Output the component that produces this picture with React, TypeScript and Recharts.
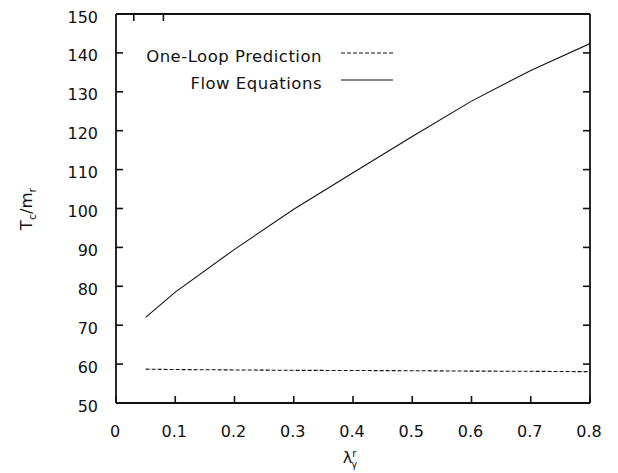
import { LineChart, Line, XAxis, YAxis, Legend } from 'recharts';

// coupling values and critical temperature (in units of m_r)
const lambdaR = [0.05, 0.1, 0.2, 0.3, 0.4, 0.5, 0.6, 0.7, 0.8];
const flowEquations = [72.0, 78.5, 89.5, 99.8, 109.2, 118.5, 127.6, 135.5, 142.4];
const oneLoop = [58.7, 58.6, 58.5, 58.4, 58.35, 58.3, 58.2, 58.15, 58.05];

const xTicks = [0, 0.1, 0.2, 0.3, 0.4, 0.5, 0.6, 0.7, 0.8];
const yTicks = [50, 60, 70, 80, 90, 100, 110, 120, 130, 140, 150];

const FONT = '"DejaVu Sans", sans-serif';
const INK = '#111';
// negative size turns the tick marks inward
const TICK = -7;
const tickStyle = { stroke: INK, strokeWidth: 1.6 };
const frameStyle = { stroke: INK, strokeWidth: 1.8 };

const chartData = lambdaR.map((l, i) => ({
  lambda: l,
  flow: flowEquations[i],
  oneLoop: oneLoop[i],
}));

const series = [
  { key: 'oneLoop', name: 'One-Loop Prediction', dash: '4 2' },
  { key: 'flow', name: 'Flow Equations', dash: undefined },
];

const BottomLabel = ({ x, y, payload }: any) => (
  <text x={x - 1} y={y + 34} textAnchor="middle" fontFamily={FONT} fontSize={16} fill={INK}>
    {String(payload.value)}
  </text>
);

const LeftLabel = ({ x, y, payload }: any) => (
  <text x={x - 18} y={y + 8.5} textAnchor="end" fontFamily={FONT} fontSize={16} fill={INK}>
    {String(payload.value)}
  </text>
);

const NoLabel = () => <g />;

const YTitle = () => (
  <text
    x={32}
    y={209}
    transform="rotate(-90, 32, 209)"
    textAnchor="middle"
    fontFamily={FONT}
    fontSize={16.5}
    fill={INK}
  >
    <tspan>T</tspan>
    <tspan dy={4} fontSize={11}>c</tspan>
    <tspan dy={-4}>/m</tspan>
    <tspan dy={4} fontSize={11}>r</tspan>
  </text>
);

const XTitle = () => (
  <text x={350} y={463} textAnchor="middle" fontFamily={FONT} fontSize={16} fill={INK}>
    <tspan>λ</tspan>
    <tspan dy={-6} fontSize={10}>r</tspan>
    <tspan dx={-5} dy={11} fontSize={10}>γ</tspan>
  </text>
);

const renderLegend = () => (
  <svg width={280} height={60}>
    {series.map((s, i) => (
      <g key={s.key}>
        <text
          x={182}
          y={22 + i * 27}
          textAnchor="end"
          fontFamily={FONT}
          fontSize={16.5}
          letterSpacing={0.5}
          fill={INK}
        >
          {s.name}
        </text>
        <line
          x1={201}
          x2={253}
          y1={13 + i * 27}
          y2={13 + i * 27}
          stroke={INK}
          strokeWidth={1.1}
          strokeDasharray={s.dash}
        />
      </g>
    ))}
  </svg>
);

export default function App() {
  return (
    <div style={{ position: 'absolute', left: 0, top: 0, width: 618, height: 473, background: '#fff' }}>
      <LineChart width={618} height={473} data={chartData} margin={{ top: 0, right: 0, bottom: 0, left: 0 }}>
        <XAxis
          dataKey="lambda"
          type="number"
          domain={[0, 0.8]}
          ticks={xTicks}
          height={70}
          tickSize={TICK}
          tickMargin={7}
          tickLine={tickStyle}
          tick={<BottomLabel />}
          axisLine={frameStyle}
          label={<XTitle />}
          allowDataOverflow
        />
        <XAxis
          xAxisId="top"
          orientation="top"
          type="number"
          domain={[0, 0.8]}
          ticks={xTicks}
          height={14}
          tickSize={TICK}
          tickLine={tickStyle}
          tick={<NoLabel />}
          axisLine={frameStyle}
          allowDataOverflow
        />
        <YAxis
          type="number"
          domain={[50, 150]}
          ticks={yTicks}
          width={116}
          tickSize={TICK}
          tickMargin={7}
          tickLine={tickStyle}
          tick={<LeftLabel />}
          axisLine={frameStyle}
          label={<YTitle />}
          allowDataOverflow
        />
        <YAxis
          yAxisId="right"
          orientation="right"
          type="number"
          domain={[50, 150]}
          ticks={yTicks}
          width={28}
          tickSize={TICK}
          tickLine={tickStyle}
          tick={<NoLabel />}
          axisLine={frameStyle}
          allowDataOverflow
        />
        <Legend
          layout="vertical"
          align="center"
          verticalAlign="middle"
          content={renderLegend}
          wrapperStyle={{ top: 40, left: 140, width: 280, height: 60 }}
        />
        {series.map((s) => (
          <Line
            key={s.key}
            dataKey={s.key}
            name={s.name}
            type="linear"
            stroke={INK}
            strokeWidth={1.1}
            strokeDasharray={s.dash}
            dot={false}
            activeDot={false}
            isAnimationActive={false}
          />
        ))}
      </LineChart>
    </div>
  );
}
